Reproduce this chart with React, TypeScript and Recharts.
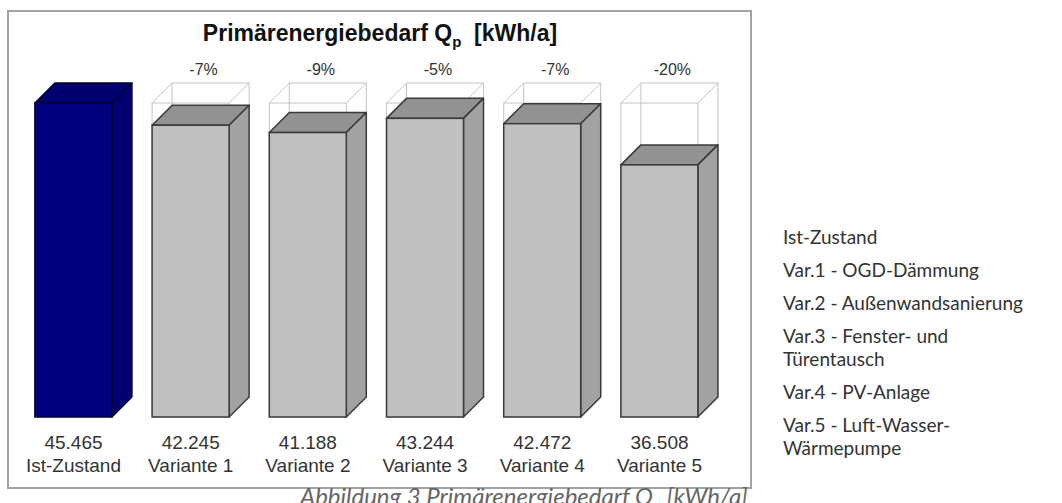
import React from 'react';
import { BarChart, Bar, XAxis, YAxis } from 'recharts';

const categories = ['Ist-Zustand', 'Variante 1', 'Variante 2', 'Variante 3', 'Variante 4', 'Variante 5'];
const energyValues = [45465, 42245, 41188, 43244, 42472, 36508];
const changeLabels = ['', '-7%', '-9%', '-5%', '-7%', '-20%'];
const valueLabels = ['45.465', '42.245', '41.188', '43.244', '42.472', '36.508'];
const legendItems = [
  'Ist-Zustand',
  'Var.1 - OGD-Dämmung',
  'Var.2 - Außenwandsanierung',
  'Var.3 - Fenster- und\nTürentausch',
  'Var.4 - PV-Anlage',
  'Var.5 - Luft-Wasser-\nWärmepumpe',
];

const referenceValue = energyValues[0];
const DEPTH = 20;
const chartFont = '"Liberation Sans", Arial, sans-serif';

const chartData = categories.map((name, i) => ({
  name,
  value: energyValues[i],
  change: changeLabels[i],
  label: valueLabels[i],
}));

const Bar3D = (props: any) => {
  const { x, y, width, height, index, payload } = props;
  const fw = width - DEPTH;
  const base = y + height;
  const isRef = index === 0;
  const colors = isRef
    ? { front: '#000080', top: '#000070', side: '#000070', stroke: '#000030' }
    : { front: '#c0c0c0', top: '#929292', side: '#a2a2a2', stroke: '#3a3a3a' };

  // outline of the reference value behind each variant
  const gh = height * referenceValue / payload.value;
  const gy = base - gh;
  const ghost = !isRef ? (
    <g fill="none" stroke="#c4c4c4" strokeWidth={1}>
      <rect x={x} y={gy} width={fw} height={gh} />
      <rect x={x + DEPTH} y={gy - DEPTH} width={fw} height={gh} />
      <line x1={x} y1={gy} x2={x + DEPTH} y2={gy - DEPTH} />
      <line x1={x + fw} y1={gy} x2={x + fw + DEPTH} y2={gy - DEPTH} />
      <line x1={x} y1={base} x2={x + DEPTH} y2={base - DEPTH} />
    </g>
  ) : null;

  return (
    <g>
      {ghost}
      <polygon
        points={`${x},${y} ${x + DEPTH},${y - DEPTH} ${x + fw + DEPTH},${y - DEPTH} ${x + fw},${y}`}
        fill={colors.top}
        stroke={colors.stroke}
        strokeWidth={1.5}
        strokeLinejoin="round"
      />
      <polygon
        points={`${x + fw},${y} ${x + fw + DEPTH},${y - DEPTH} ${x + fw + DEPTH},${base - DEPTH} ${x + fw},${base}`}
        fill={colors.side}
        stroke={colors.stroke}
        strokeWidth={1.5}
        strokeLinejoin="round"
      />
      <rect x={x} y={y} width={fw} height={height} fill={colors.front} stroke={colors.stroke} strokeWidth={1.5} />
      {payload.change ? (
        <text
          x={x + width / 2 + 3}
          y={gy - DEPTH - 8}
          textAnchor="middle"
          fontFamily={chartFont}
          fontSize={16}
          fill="#333"
        >
          {payload.change}
        </text>
      ) : null}
    </g>
  );
};

const CategoryTick = (props: any) => {
  const { x, y, payload } = props;
  const i = payload.index;
  const cx = x - DEPTH / 2;
  return (
    <g>
      <text x={cx} y={y + 24} textAnchor="middle" fontFamily={chartFont} fontSize={19} fill="#333">
        {valueLabels[i]}
      </text>
      <text x={cx} y={y + 47} textAnchor="middle" fontFamily={chartFont} fontSize={19} fill="#333">
        {categories[i]}
      </text>
    </g>
  );
};

export default function App() {
  return (
    <div
      style={{
        position: 'absolute',
        left: 0,
        top: 0,
        width: 1062,
        height: 503,
        background: '#fff',
        overflow: 'hidden',
      }}
    >
      <div
        style={{
          position: 'absolute',
          left: 7,
          top: 10,
          width: 741,
          height: 475,
          border: '2px solid #a3a3a3',
        }}
      />
      <div
        style={{
          position: 'absolute',
          left: 0,
          top: 20,
          width: 760,
          textAlign: 'center',
          fontFamily: chartFont,
          fontWeight: 'bold',
          fontSize: 23,
          color: '#111',
        }}
      >
        Primärenergiebedarf Q<sub style={{ fontSize: 15 }}>p</sub>&nbsp; [kWh/a]
      </div>
      <div style={{ position: 'absolute', left: 0, top: 0 }}>
        <BarChart
          width={760}
          height={503}
          data={chartData}
          margin={{ top: 71.7, right: 31.9, bottom: 26, left: 24.9 }}
        >
          <XAxis
            dataKey="name"
            axisLine={false}
            tickLine={false}
            height={60}
            interval={0}
            tick={<CategoryTick />}
          />
          <YAxis hide domain={[0, 50000]} />
          <Bar dataKey="value" barSize={97} shape={<Bar3D />} isAnimationActive={false} />
        </BarChart>
      </div>
      <div
        style={{
          position: 'absolute',
          left: 300,
          top: 481,
          fontFamily: 'Lato, sans-serif',
          fontStyle: 'italic',
          fontSize: 24,
          color: '#666',
          whiteSpace: 'nowrap',
        }}
      >
        Abbildung 3 Primärenergiebedarf Q<sub style={{ fontSize: 15 }}>p</sub> [kWh/a]
      </div>
      <div
        style={{
          position: 'absolute',
          left: 783,
          top: 225,
          width: 279,
          fontFamily: 'Lato, sans-serif',
          fontSize: 19,
          lineHeight: '23px',
          color: '#333',
        }}
      >
        {legendItems.map((item) => (
          <div key={item} style={{ whiteSpace: 'pre-line', marginBottom: 10 }}>
            {item}
          </div>
        ))}
      </div>
    </div>
  );
}
